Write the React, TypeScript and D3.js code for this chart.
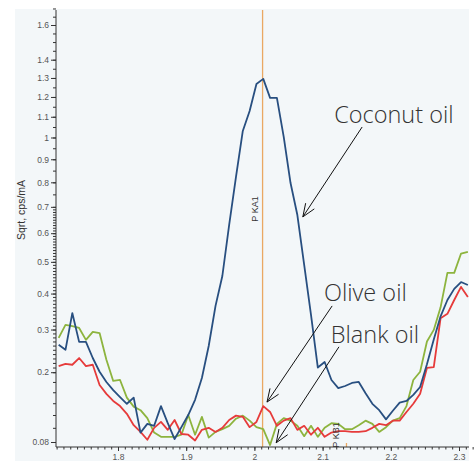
import React, { useEffect, useRef } from 'react';
import * as d3 from 'd3';

// channel energies (keV), one every 0.01
const energy = [
  1.713, 1.723, 1.733, 1.743, 1.753, 1.763, 1.773, 1.783, 1.793, 1.803,
  1.813, 1.823, 1.833, 1.843, 1.853, 1.863, 1.873, 1.883, 1.893, 1.903,
  1.913, 1.923, 1.933, 1.943, 1.953, 1.963, 1.973, 1.983, 1.993, 2.003,
  2.013, 2.023, 2.033, 2.043, 2.053, 2.063, 2.073, 2.083, 2.093, 2.103,
  2.113, 2.123, 2.133, 2.143, 2.153, 2.163, 2.173, 2.183, 2.193, 2.203,
  2.213, 2.223, 2.233, 2.243, 2.253, 2.263, 2.273, 2.283, 2.293, 2.303,
  2.313,
];

const coconut = [
  0.262, 0.250, 0.344, 0.269, 0.269, 0.231, 0.201, 0.180, 0.164, 0.151,
  0.139, 0.150, 0.093, 0.106, 0.103, 0.135, 0.107, 0.084, 0.101, 0.120,
  0.146, 0.188, 0.259, 0.364, 0.454, 0.631, 0.823, 1.031, 1.129, 1.268,
  1.295, 1.195, 1.195, 1.003, 0.797, 0.668, 0.490, 0.339, 0.210, 0.222,
  0.184, 0.168, 0.172, 0.178, 0.180, 0.158, 0.139, 0.128, 0.113, 0.127,
  0.141, 0.144, 0.155, 0.170, 0.217, 0.275, 0.335, 0.381, 0.414, 0.435,
  0.426,
];

const olive = [
  0.213, 0.218, 0.216, 0.231, 0.213, 0.216, 0.174, 0.157, 0.144, 0.135,
  0.122, 0.104, 0.094, 0.083, 0.100, 0.109, 0.097, 0.112, 0.091, 0.090,
  0.082, 0.097, 0.100, 0.094, 0.100, 0.112, 0.119, 0.117, 0.101, 0.109,
  0.135, 0.125, 0.103, 0.111, 0.115, 0.097, 0.103, 0.090, 0.100, 0.087,
  0.093, 0.095, 0.095, 0.094, 0.094, 0.095, 0.100, 0.106, 0.104, 0.111,
  0.111, 0.125, 0.139, 0.157, 0.209, 0.211, 0.330, 0.342, 0.381, 0.420,
  0.390,
];

const blank = [
  0.279, 0.312, 0.309, 0.304, 0.274, 0.294, 0.291, 0.227, 0.182, 0.184,
  0.150, 0.134, 0.128, 0.115, 0.093, 0.087, 0.087, 0.087, 0.090, 0.120,
  0.090, 0.117, 0.086, 0.094, 0.098, 0.103, 0.114, 0.119, 0.111, 0.101,
  0.098, 0.076, 0.106, 0.115, 0.111, 0.103, 0.088, 0.103, 0.087, 0.100,
  0.107, 0.106, 0.098, 0.098, 0.104, 0.111, 0.106, 0.094, 0.101, 0.111,
  0.115, 0.135, 0.184, 0.201, 0.270, 0.299, 0.360, 0.464, 0.464, 0.528,
  0.534,
];

const seriesNames = ['Blank oil', 'Olive oil', 'Coconut oil'];
const seriesColors = ['#8db43e', '#e63b3b', '#284f80'];

const xTicks = [1.8, 1.9, 2, 2.1, 2.2, 2.3];
const yTicks = [0.08, 0.2, 0.3, 0.4, 0.5, 0.6, 0.7, 0.8, 0.9, 1, 1.1, 1.2, 1.3, 1.4, 1.6];

// element lines
const lineLabels = ['P KA1', 'P KB1'];
const lineEnergies = [2.012, 2.135];

// callouts: text anchor and arrow (from -> tip), in data units
const calloutText = ['Coconut oil', 'Olive oil', 'Blank oil'];
const calloutAt = [[2.117, 1.07], [2.102, 0.378], [2.112, 0.266]];
const calloutFrom = [[2.158, 1.05], [2.114, 0.364], [2.124, 0.257]];
const calloutTip = [[2.071, 0.661], [2.0185, 0.142], [2.032, 0.079]];

const W = 474;
const H = 461;

const App: React.FC = () => {
  const svgRef = useRef<SVGSVGElement>(null);

  useEffect(() => {
    if (!svgRef.current) return;
    const svg = d3.select(svgRef.current);
    svg.selectAll('*').remove();

    const left = 56, right = 469, top = 10, bottom = 447;

    const x = d3.scaleLinear().domain([1.8, 2.3]).range([118, 459]);
    const y = d3.scaleSqrt().domain([0.08, 1.6]).range([442, 25]);

    // panel
    svg.append('rect')
      .attr('x', 15).attr('y', 9)
      .attr('width', right - 15).attr('height', H - 9)
      .attr('fill', '#f3f7f9');

    // element marker line
    svg.append('line')
      .attr('x1', x(lineEnergies[0])).attr('x2', x(lineEnergies[0]))
      .attr('y1', top).attr('y2', bottom)
      .attr('stroke', '#eaa863').attr('stroke-width', 1.3);
    svg.append('line')
      .attr('x1', x(lineEnergies[1])).attr('x2', x(lineEnergies[1]))
      .attr('y1', bottom - 4).attr('y2', bottom)
      .attr('stroke', '#eaa863').attr('stroke-width', 1.3);

    // spectra
    const line = d3.line<number>()
      .x((_, i) => x(energy[i]))
      .y(d => y(d));

    [blank, olive, coconut].forEach((s, k) => {
      svg.append('path')
        .datum(s)
        .attr('d', line)
        .attr('fill', 'none')
        .attr('stroke', seriesColors[k])
        .attr('stroke-width', 1.8)
        .attr('stroke-linejoin', 'round')
        .append('title').text(seriesNames[k]);
    });

    const font = 'Liberation Sans, Arial, sans-serif';

    // element labels
    lineLabels.forEach((lab, i) => {
      const px = x(lineEnergies[i]) - (i === 0 ? 5 : 7);
      const py = i === 0 ? 209 : 435;
      svg.append('text')
        .attr('transform', `translate(${px},${py}) rotate(-90)`)
        .attr('text-anchor', 'middle')
        .attr('font-family', font)
        .attr('font-size', 9)
        .attr('fill', '#333')
        .text(lab);
    });

    // axes
    const yMinor = [
      ...d3.range(0.08, 0.2, 0.02),
      ...d3.range(0.2, 0.7, 0.01),
      ...d3.range(0.7, 1.7001, 0.05),
    ];
    const xMinor = d3.range(1.71, 2.3201, 0.01);

    const yg = svg.append('g').attr('transform', `translate(${left},0)`);
    yg.append('g').call(d3.axisLeft(y).tickValues(yMinor).tickSize(3).tickFormat(() => ''));
    yg.append('g').call(d3.axisLeft(y).tickValues(yTicks).tickSize(5).tickPadding(2).tickFormat(d => String(d)));

    const xg = svg.append('g').attr('transform', `translate(0,${bottom})`);
    xg.append('g').call(d3.axisBottom(x).tickValues(xMinor).tickSize(2.5).tickFormat(() => ''));
    xg.append('g').call(d3.axisBottom(x).tickValues(xTicks).tickSize(4).tickPadding(3).tickFormat(d => String(d)));

    svg.selectAll('.domain').remove();
    svg.selectAll('.tick line').attr('stroke', '#333');
    svg.selectAll('.tick text')
      .attr('font-family', font)
      .attr('font-size', 8.5)
      .attr('fill', '#555');

    svg.append('line')
      .attr('x1', left).attr('x2', left).attr('y1', top).attr('y2', bottom)
      .attr('stroke', '#333');
    svg.append('line')
      .attr('x1', left).attr('x2', right).attr('y1', bottom).attr('y2', bottom)
      .attr('stroke', '#333');

    svg.append('text')
      .attr('transform', 'translate(25,210) rotate(-90)')
      .attr('text-anchor', 'middle')
      .attr('font-family', font)
      .attr('font-size', 10.5)
      .attr('fill', '#333')
      .text('Sqrt, cps/mA');

    // callouts
    calloutText.forEach((t, i) => {
      svg.append('text')
        .attr('x', x(calloutAt[i][0]))
        .attr('y', y(calloutAt[i][1]))
        .attr('font-family', '"Open Sans", sans-serif')
        .attr('font-weight', 300)
        .attr('font-size', 23.5)
        .attr('fill', '#333')
        .text(t);

      const x0 = x(calloutFrom[i][0]), y0 = y(calloutFrom[i][1]);
      const x1 = x(calloutTip[i][0]), y1 = y(calloutTip[i][1]);
      svg.append('line')
        .attr('x1', x0).attr('y1', y0).attr('x2', x1).attr('y2', y1)
        .attr('stroke', '#111').attr('stroke-width', 1);

      const ang = Math.atan2(y0 - y1, x0 - x1);
      const len = 14, spread = 0.38;
      [ang - spread, ang + spread].forEach(a => {
        svg.append('line')
          .attr('x1', x1).attr('y1', y1)
          .attr('x2', x1 + len * Math.cos(a)).attr('y2', y1 + len * Math.sin(a))
          .attr('stroke', '#111').attr('stroke-width', 1);
      });
    });
  }, []);

  return (
    <svg
      ref={svgRef}
      width={W}
      height={H}
      style={{ position: 'absolute', top: 0, left: 0, background: '#fff' }}
    />
  );
};

export default App;
